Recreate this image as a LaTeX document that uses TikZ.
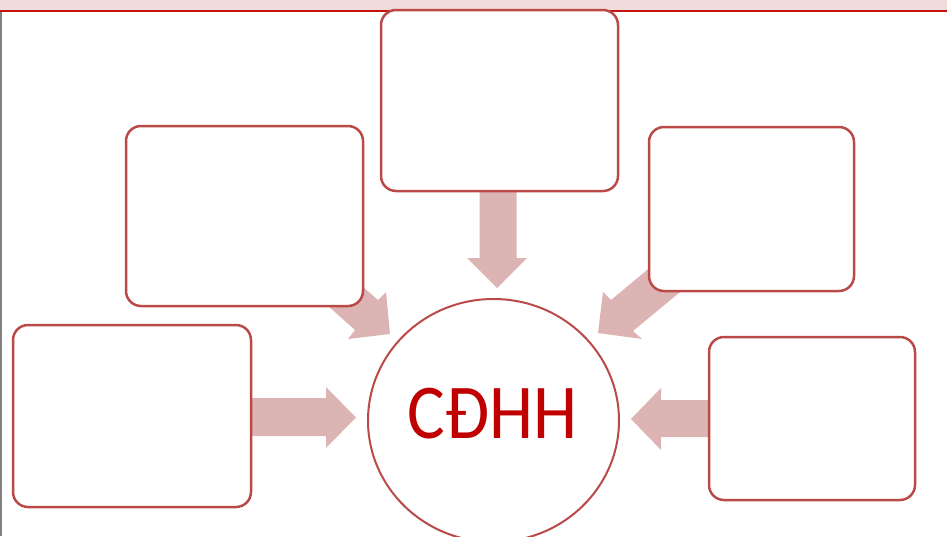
\documentclass[tikz,border=0pt]{standalone}
\usepackage{fontspec}
\newfontfamily\lblfont{Carlito}
\usetikzlibrary{shapes.geometric}
\definecolor{boxred}{RGB}{186,74,72}
\definecolor{arrowpink}{RGB}{221,180,180}
\definecolor{bandpink}{RGB}{242,220,219}
\definecolor{bandred}{RGB}{196,20,20}
\definecolor{textred}{RGB}{192,0,0}
\definecolor{edgegray}{RGB}{128,128,128}
\tikzset{
  roundbox/.style={draw=boxred, line width=2.5pt, fill=white, rounded corners=15pt,
    inner sep=0pt, outer sep=0pt},
  blockarrow/.style={fill=arrowpink, draw=none},
  hub/.style={ellipse, draw=boxred, line width=2pt, fill=white, inner sep=0pt,
    minimum width=251pt, minimum height=243pt},
}
\begin{document}
\begin{tikzpicture}[x=1pt,y=-1pt]
\useasboundingbox (0,0) rectangle (947,536);
\clip (0,0) rectangle (947,536);
% top band
\fill[bandpink] (0,0) rectangle (947,11);
\draw[bandred, line width=2pt] (0,11) -- (947,11);
\draw[edgegray, line width=1.5pt] (0.75,12) -- (0.75,536);
% block arrows
\fill[blockarrow] (479.5,185) -- (479.5,258) -- (467,258) -- (497,288) -- (527,258) -- (516.5,258) -- (516.5,185) -- cycle;
\fill[blockarrow] (245,398) -- (326,398) -- (326,387) -- (356,417.5) -- (326,448) -- (326,436) -- (245,436) -- cycle;
\fill[blockarrow] (715,400) -- (661,400) -- (661,388) -- (631,419) -- (661,450) -- (661,437) -- (715,437) -- cycle;
\fill[blockarrow] (340,267) -- (378,300) -- (386,292) -- (390,334) -- (348,339) -- (355,330) -- (318,297) -- cycle;
\fill[blockarrow] (665,255) -- (611,300) -- (603,292) -- (598,333) -- (642,339) -- (633,331) -- (691,283) -- cycle;
% boxes
\node[roundbox, minimum width=237pt, minimum height=181pt] (topbox) at (499.5,100.5) {};
\node[roundbox, minimum width=237pt, minimum height=180pt] (ulbox) at (244.5,216) {};
\node[roundbox, minimum width=205pt, minimum height=164pt] (urbox) at (751.5,209) {};
\node[roundbox, minimum width=238pt, minimum height=182pt] (llbox) at (132,416) {};
\node[roundbox, minimum width=206pt, minimum height=163pt] (lrbox) at (812,418.5) {};
% hub
\node[hub] (hub) at (493.5,420.5) {};
\node[anchor=base, inner sep=0pt, text=textred] (hublabel) at (492.5,438)
  {\scalebox{0.91}[1]{\lblfont\fontsize{77.6}{80}\selectfont CĐHH}};
\end{tikzpicture}
\end{document}
